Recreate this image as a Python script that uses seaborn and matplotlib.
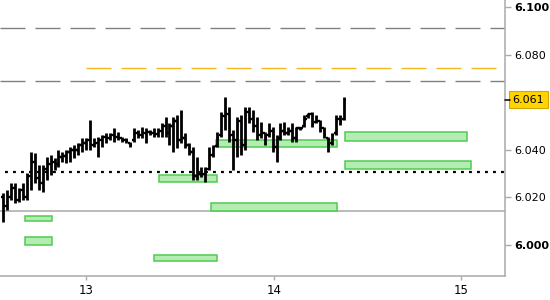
import numpy as np
import matplotlib
matplotlib.use("Agg")
import matplotlib.pyplot as plt
import matplotlib.transforms as mtransforms
from matplotlib.patches import Rectangle
import seaborn as sns

# ---------------- data ----------------
bar_start, bar_step = 12.556, 0.02114   # bar times (days)

highs = [6.0218, 6.0231, 6.0261, 6.0261, 6.0239, 6.0261, 6.0303, 6.0391, 6.0387, 6.0336,
         6.0336, 6.0370, 6.0378, 6.0366, 6.0399, 6.0391, 6.0399, 6.0412, 6.0420, 6.0429,
         6.0450, 6.0450, 6.0525, 6.0450, 6.0454, 6.0462, 6.0471, 6.0471, 6.0492, 6.0475,
         6.0454, 6.0450, 6.0433, 6.0492, 6.0483, 6.0496, 6.0492, 6.0483, 6.0492, 6.0492,
         6.0513, 6.0538, 6.0513, 6.0538, 6.0546, 6.0567, 6.0471, 6.0429, 6.0412, 6.0370,
         6.0328, 6.0328, 6.0412, 6.0420, 6.0475, 6.0559, 6.0622, 6.0580, 6.0483, 6.0538,
         6.0546, 6.0580, 6.0580, 6.0567, 6.0538, 6.0517, 6.0475, 6.0513, 6.0496, 6.0462,
         6.0513, 6.0517, 6.0496, 6.0513, 6.0496, 6.0496, 6.0546, 6.0555, 6.0559, 6.0546,
         6.0525, 6.0496, 6.0454, 6.0471, 6.0546, 6.0546, 6.0622]
lows = [6.0097, 6.0147, 6.0189, 6.0176, 6.0181, 6.0189, 6.0189, 6.0231, 6.0261, 6.0231,
        6.0223, 6.0273, 6.0294, 6.0315, 6.0328, 6.0349, 6.0345, 6.0349, 6.0366, 6.0378,
        6.0391, 6.0399, 6.0399, 6.0412, 6.0370, 6.0412, 6.0429, 6.0441, 6.0433, 6.0441,
        6.0433, 6.0429, 6.0412, 6.0433, 6.0450, 6.0450, 6.0429, 6.0462, 6.0454, 6.0454,
        6.0454, 6.0454, 6.0420, 6.0391, 6.0408, 6.0429, 6.0408, 6.0378, 6.0273, 6.0273,
        6.0286, 6.0265, 6.0315, 6.0370, 6.0412, 6.0454, 6.0483, 6.0433, 6.0315, 6.0370,
        6.0378, 6.0399, 6.0513, 6.0475, 6.0441, 6.0450, 6.0420, 6.0454, 6.0391, 6.0349,
        6.0441, 6.0462, 6.0462, 6.0433, 6.0433, 6.0483, 6.0496, 6.0534, 6.0496, 6.0513,
        6.0475, 6.0450, 6.0391, 6.0420, 6.0462, 6.0504, 6.0525]
opens = [6.0200, 6.0165, 6.0200, 6.0240, 6.0190, 6.0230, 6.0200, 6.0290, 6.0350, 6.0280,
         6.0260, 6.0320, 6.0340, 6.0350, 6.0340, 6.0370, 6.0375, 6.0390, 6.0400, 6.0400,
         6.0420, 6.0430, 6.0440, 6.0420, 6.0430, 6.0440, 6.0455, 6.0450, 6.0460, 6.0455,
         6.0450, 6.0440, 6.0430, 6.0440, 6.0470, 6.0460, 6.0470, 6.0475, 6.0470, 6.0465,
         6.0480, 6.0500, 6.0470, 6.0500, 6.0520, 6.0440, 6.0450, 6.0420, 6.0390, 6.0290,
         6.0300, 6.0300, 6.0320, 6.0380, 6.0415, 6.0460, 6.0540, 6.0550, 6.0460, 6.0440,
         6.0520, 6.0420, 6.0560, 6.0530, 6.0500, 6.0460, 6.0470, 6.0460, 6.0480, 6.0410,
         6.0450, 6.0480, 6.0470, 6.0480, 6.0450, 6.0490, 6.0500, 6.0540, 6.0550, 6.0515,
         6.0520, 6.0490, 6.0450, 6.0430, 6.0470, 6.0530, 6.0530]
closes = [6.0165, 6.0200, 6.0240, 6.0190, 6.0230, 6.0200, 6.0290, 6.0350, 6.0280, 6.0260,
          6.0320, 6.0340, 6.0350, 6.0340, 6.0370, 6.0375, 6.0390, 6.0400, 6.0400, 6.0420,
          6.0430, 6.0440, 6.0420, 6.0430, 6.0440, 6.0455, 6.0450, 6.0460, 6.0455, 6.0450,
          6.0440, 6.0435, 6.0420, 6.0470, 6.0460, 6.0470, 6.0475, 6.0470, 6.0465, 6.0480,
          6.0500, 6.0470, 6.0500, 6.0520, 6.0440, 6.0450, 6.0420, 6.0390, 6.0290, 6.0300,
          6.0300, 6.0320, 6.0380, 6.0410, 6.0450, 6.0540, 6.0550, 6.0460, 6.0440, 6.0520,
          6.0420, 6.0560, 6.0530, 6.0500, 6.0460, 6.0470, 6.0450, 6.0480, 6.0410, 6.0450,
          6.0480, 6.0470, 6.0480, 6.0450, 6.0490, 6.0490, 6.0530, 6.0550, 6.0510, 6.0520,
          6.0490, 6.0460, 6.0420, 6.0460, 6.0530, 6.0520, 6.0610]

# horizontal levels
gray_dash_levels = [6.0910, 6.0689]
orange_dash_level = 6.0742
orange_start = 13.0
dotted_level = 6.0308
dotted_start = 12.567
solid_level = 6.0142

# zones: (x0, x1, y0, y1)
zones = [
    (12.673, 12.815, 6.0099, 6.0120),
    (12.673, 12.815, 6.0000, 6.0032),
    (13.359, 13.695, 5.9932, 5.9958),
    (13.388, 13.695, 6.0263, 6.0296),
    (13.692, 14.335, 6.0413, 6.0442),
    (14.380, 15.029, 6.0438, 6.0475),
    (14.380, 15.050, 6.0320, 6.0353),
    (13.667, 14.335, 6.0142, 6.0176),
]

y_ticks = [6.000, 6.020, 6.040, 6.080, 6.100]
bold_ticks = [6.000, 6.100]
x_ticks = [13, 14, 15]
last_price = 6.061

# ---------------- style ----------------
sns.set_theme(style="white")
plt.rcParams['font.family'] = ['DejaVu Sans']

fig = plt.figure(figsize=(5.5, 3.0), dpi=100)
ax = fig.add_axes([0.0, 0.08, 505 / 550, 0.92])
ax.set_xlim(12.54, 15.233)
ax.set_ylim(5.987, 6.1029)

t = bar_start + bar_step * np.arange(len(highs))

# zones
for (x0, x1, y0, y1) in zones:
    ax.add_patch(Rectangle((x0, y0), x1 - x0, y1 - y0, facecolor='#b4ecb4',
                           edgecolor='#50cc50', lw=1.1, zorder=2))

# levels
for lv in gray_dash_levels:
    ax.axhline(lv, color='#808080', lw=1.0, dashes=(18, 7.2), zorder=1)
ax.hlines(orange_dash_level, orange_start, 15.233, color='#f5b820', lw=1.0,
          linestyles=[(0, (18, 7.2))], zorder=1)
ax.hlines(dotted_level, dotted_start, 15.233, color='black', lw=1.6,
          linestyles=[(0, (1.3, 2.3))], zorder=1)
ax.axhline(solid_level, color='#a8a8a8', lw=1.1, zorder=1)

# OHLC bars
w = 0.012
ax.vlines(t, lows, highs, color='black', lw=2.0, capstyle='butt', zorder=4)
ax.hlines(opens, t - w, t, color='black', lw=1.7, capstyle='butt', zorder=4)
ax.hlines(closes, t, t + w, color='black', lw=1.7, capstyle='butt', zorder=4)

# axes styling
for s in ['left', 'top']:
    ax.spines[s].set_visible(False)
for s in ['right', 'bottom']:
    ax.spines[s].set_color('#aaaaaa')
    ax.spines[s].set_linewidth(1.1)

ax.yaxis.tick_right()
ax.set_yticks(y_ticks)
ax.set_yticklabels([f"{v:.3f}" for v in y_ticks])
for lab, v in zip(ax.get_yticklabels(), y_ticks):
    if v in bold_ticks:
        lab.set_fontweight('bold')
ax.tick_params(axis='y', which='both', right=True, left=False, length=4, width=1,
               color='#aaaaaa', labelsize=8, pad=3, labelcolor='black')
ax.set_xticks(x_ticks)
ax.set_xticklabels([str(v) for v in x_ticks])
ax.tick_params(axis='x', bottom=True, length=3, width=1, color='#aaaaaa',
               labelsize=8.5, pad=3, labelcolor='black')
ax.grid(False)

# last price marker
trans = mtransforms.blended_transform_factory(ax.transAxes, ax.transData)
ax.plot([1.0, 1.009], [last_price, last_price], color='black', lw=1.1,
        transform=trans, clip_on=False, zorder=5)
ax.text(1.015, last_price, f"{last_price:.3f}", transform=trans, fontsize=8,
        va='center', ha='left', color='black',
        bbox=dict(boxstyle='square,pad=0.3', facecolor='#ffd400', edgecolor='#d0a800', lw=0.8))

fig.savefig("out.png", dpi=100)
